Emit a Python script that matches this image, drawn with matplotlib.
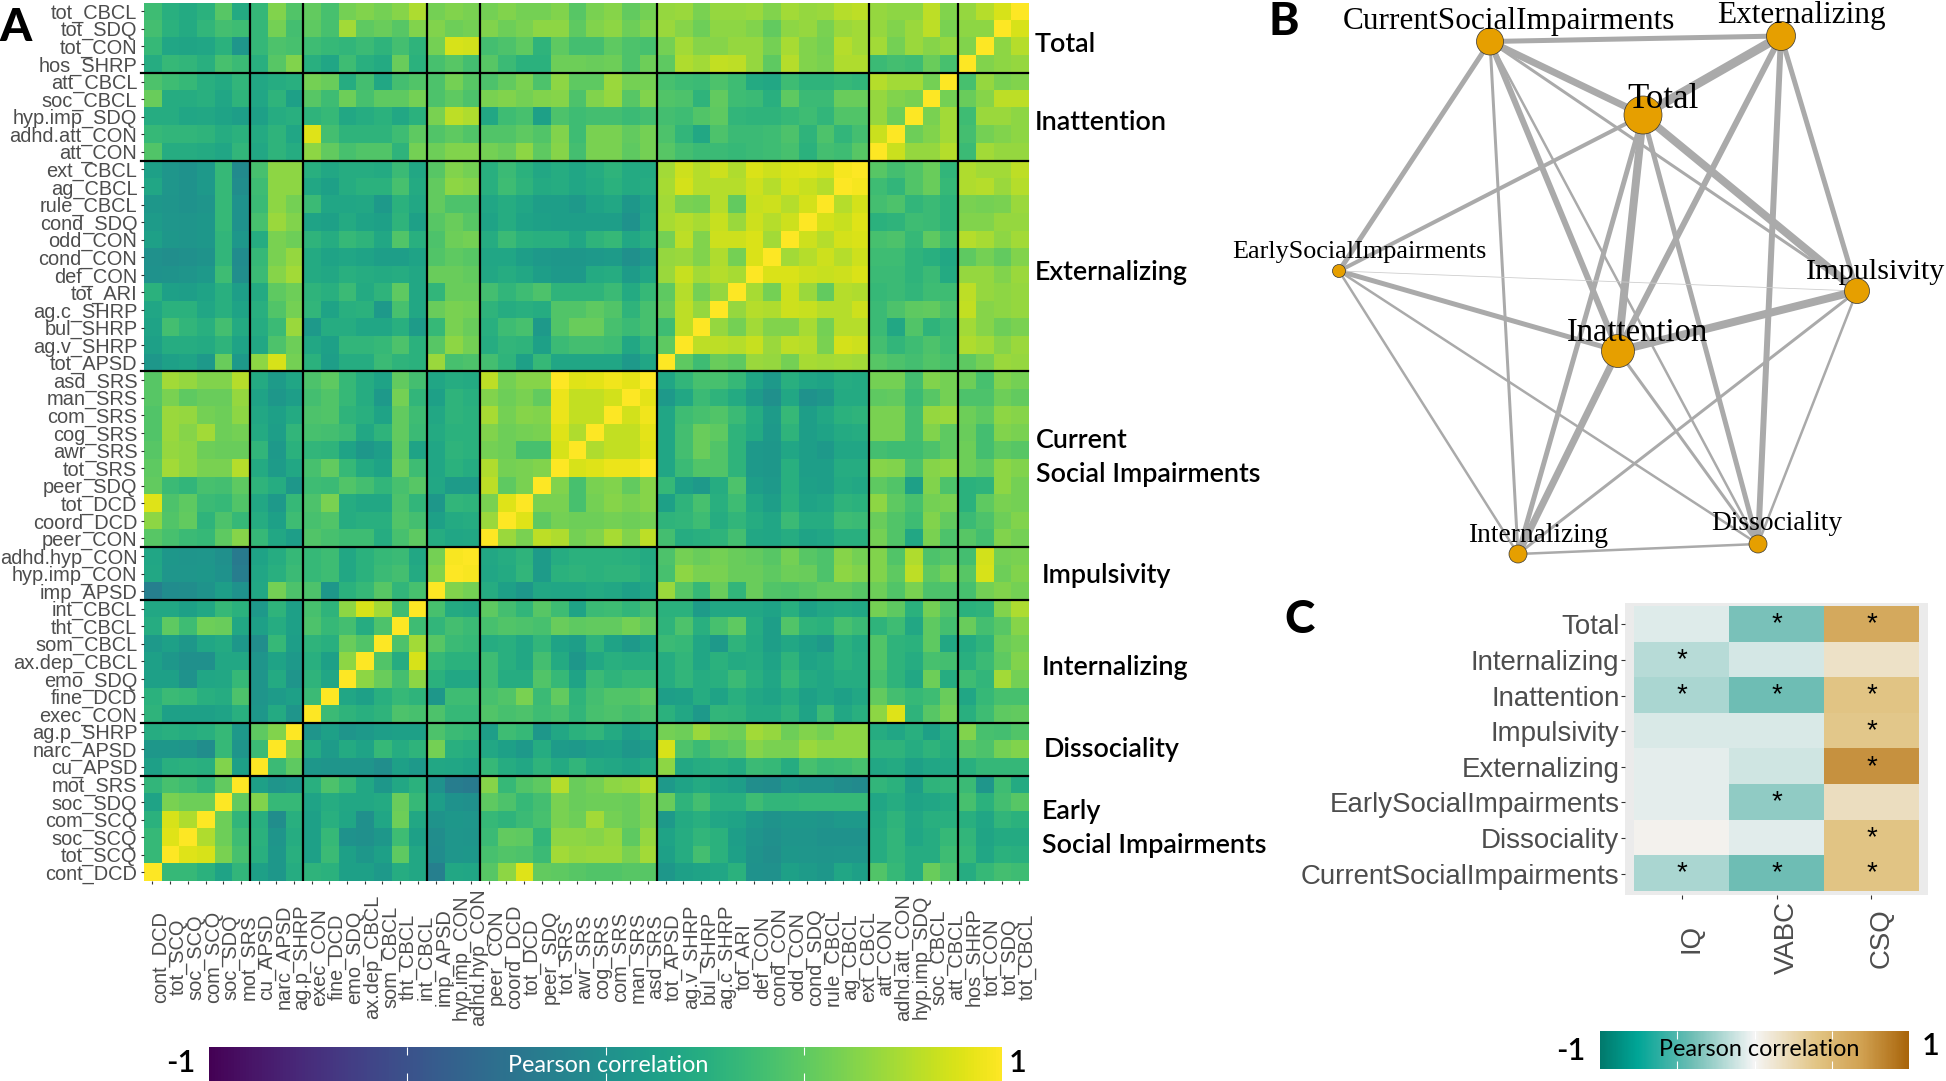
import numpy as np
import matplotlib
matplotlib.use("Agg")
import matplotlib.pyplot as plt
from matplotlib.cm import ScalarMappable
from matplotlib.colors import LinearSegmentedColormap, Normalize

W, H = 1946, 1081

# measures, top to bottom on the y axis of panel A
measures = ["tot_CBCL", "tot_SDQ", "tot_CON", "hos_SHRP",
            "att_CBCL", "soc_CBCL", "hyp.imp_SDQ", "adhd.att_CON", "att_CON",
            "ext_CBCL", "ag_CBCL", "rule_CBCL", "cond_SDQ", "odd_CON", "cond_CON",
            "def_CON", "tot_ARI", "ag.c_SHRP", "bul_SHRP", "ag.v_SHRP", "tot_APSD",
            "asd_SRS", "man_SRS", "com_SRS", "cog_SRS", "awr_SRS", "tot_SRS",
            "peer_SDQ", "tot_DCD", "coord_DCD", "peer_CON",
            "adhd.hyp_CON", "hyp.imp_CON", "imp_APSD",
            "int_CBCL", "tht_CBCL", "som_CBCL", "ax.dep_CBCL", "emo_SDQ", "fine_DCD", "exec_CON",
            "ag.p_SHRP", "narc_APSD", "cu_APSD",
            "mot_SRS", "soc_SDQ", "com_SCQ", "soc_SCQ", "tot_SCQ", "cont_DCD"]
group_sizes = [4, 5, 12, 10, 3, 7, 3, 6]

# correlations x100. Each row runs from the left edge
# of the heatmap up to the diagonal; the rest is the mirror image.
row_tot_CBCL = [38,26,22,28,48,22, 33,62,46, 52,42,58,62,58,64,75, 58,62,60, 58,62,58,58,62,48,60,64,52,58, 68,70,60,68,68,70,62,72,68,70,78,80, 68,66,66,80,62, 68,78,88,100]
row_tot_SDQ = [40,28,22,32,40,38, 33,58,40, 50,42,72,50,54,48,62, 62,56,58, 62,56,60,66,66,50,62,66,56,62, 70,64,56,66,66,62,52,66,68,60,70,72, 68,62,70,80,60, 66,66,100]
row_tot_CON = [34,18,17,18,28,5, 33,44,42, 38,34,32,36,30,40,30, 58,88,86, 40,44,50,30,50,40,40,50,44,42, 58,72,64,64,68,68,58,74,62,58,78,72, 72,58,70,64,68, 62,100]
row_hos_SHRP = [24,34,32,26,42,36, 26,48,62, 26,18,38,26,22,54,28, 42,48,40, 48,36,28,28,56,56,54,56,44,56, 50,76,72,82,80,68,50,78,62,60,76,76, 36,40,38,54,42, 100]
row_att_CBCL = [44,38,34,26,22,32, 20,24,26, 58,54,24,40,20,40,46, 44,58,48, 44,52,60,44,66,50,50,70,58,58, 42,38,36,44,38,22,20,38,30,30,34,32, 78,72,72,58,100]
row_soc_CBCL = [54,24,24,26,18,30, 18,30,14, 48,38,56,42,50,50,58, 44,50,44, 60,62,58,62,64,44,62,68,48,62, 46,44,30,52,38,36,26,50,36,36,54,54, 68,62,60,100]
row_hyp_imp_SDQ = [24,24,18,20,16,12, 14,24,26, 30,34,20,24,28,20,28, 60,80,76, 20,38,42,14,44,38,40,40,36,40, 40,38,46,50,32,30,30,34,38,32,46,46, 68,56,100]
row_adhd_att_CON = [34,32,32,30,24,28, 22,30,18, 90,40,30,30,30,38,50, 46,50,46, 46,46,50,46,62,38,60,60,52,58, 44,32,20,44,36,36,38,44,30,44,32,40, 84,100]
row_att_CON = [46,24,24,22,18,32, 20,30,24, 66,52,42,46,46,30,58, 56,62,62, 58,54,66,50,64,40,60,60,50,58, 48,40,36,36,34,36,38,42,28,40,38,48, 100]
row_ext_CBCL = [14,5,2,8,34,-4, 42,66,66, 26,20,24,24,22,36,20, 48,62,58, 26,36,28,20,24,18,24,30,22,22, 72,85,78,85,76,89,85,89,90,87,97,100]
row_ag_CBCL = [18,5,2,8,34,-2, 38,66,66, 20,14,24,28,28,42,22, 52,66,64, 26,38,30,22,24,18,22,28,22,24, 74,87,78,78,78,85,78,87,83,78,100]
row_rule_CBCL = [6,4,2,4,34,2, 36,66,58, 36,18,18,20,8,28,20, 52,44,44, 18,24,18,12,12,8,16,20,6,16, 72,60,58,78,52,83,85,78,87,100]
row_cond_SDQ = [10,5,4,6,34,2, 42,70,62, 16,14,22,16,14,30,14, 48,54,48, 16,24,16,14,12,12,12,12,2,18, 74,78,74,83,70,85,78,85,100]
row_odd_CON = [14,6,4,6,32,6, 24,60,56, 30,24,34,30,20,46,26, 44,56,58, 24,36,28,26,26,18,30,34,20,26, 58,80,62,85,85,89,72,100]
row_cond_CON = [1,-1,0,3,32,-3, 34,60,68, 22,16,18,16,12,12,16, 46,50,48, 18,18,12,8,6,6,8,10,0,8, 68,70,62,76,58,89,100]
row_def_CON = [2,3,4,8,38,-1, 36,64,72, 22,20,26,24,22,24,20, 54,54,52, 20,24,20,12,8,8,22,24,10,18, 70,83,72,78,74,100]
row_tot_ARI = [28,14,12,16,26,12, 22,50,56, 30,26,36,22,30,50,20, 32,54,54, 40,32,38,44,30,30,30,36,22,34, 50,78,58,68,100]
row_ag_c_SHRP = [18,28,28,18,26,16, 26,46,58, 32,16,26,28,8,42,20, 54,60,58, 30,24,26,24,46,46,50,46,30,42, 54,80,68,100]
row_bul_SHRP = [16,40,32,26,40,22, 24,36,70, 8,24,24,18,18,26,10, 34,60,54, 26,38,42,8,46,54,54,42,36,42, 38,80,100]
row_ag_v_SHRP = [14,24,24,22,30,16, 20,44,56, 20,14,32,32,34,44,28, 48,66,58, 24,32,30,14,36,40,40,38,20,32, 50,100]
row_tot_APSD = [6,14,16,8,54,8, 66,88,58, 28,12,24,24,36,30,28, 70,42,44, 40,30,14,34,18,18,18,18,8,18, 100]
row_asd_SRS = [48,72,68,62,62,78, 22,10,18, 44,50,34,24,16,52,40, 18,24,22, 80,58,64,64,100,90,92,96,92,100]
row_man_SRS = [48,60,50,54,54,68, 16,6,12, 40,46,34,24,8,58,32, 14,30,26, 62,56,60,52,94,82,82,86,100]
row_com_SRS = [46,70,68,58,56,66, 20,14,22, 44,46,30,26,16,52,38, 20,30,28, 74,58,64,62,94,82,82,100]
row_cog_SRS = [46,70,64,72,56,58, 22,12,32, 42,40,36,20,30,52,36, 22,28,28, 62,56,58,60,90,76,100]
row_awr_SRS = [48,68,66,56,54,54, 32,8,28, 32,30,16,6,12,50,16, 18,30,28, 58,56,42,42,88,100]
row_tot_SRS = [50,72,66,60,60,78, 22,10,20, 42,52,34,22,16,54,38, 18,28,24, 76,58,60,62,100]
row_peer_SDQ = [52,36,32,42,40,50, 30,24,6, 38,36,46,40,32,42,48, 20,10,10, 80,50,60,100]
row_tot_DCD = [90,44,50,36,34,46, 20,8,34, 44,60,24,20,20,44,32, 6,32,30, 60,90,100]
row_coord_DCD = [66,46,52,30,44,34, 24,14,38, 42,46,24,26,26,46,40, 14,22,24, 70,100]
row_peer_CON = [48,42,36,34,50,64, 34,20,12, 46,42,38,38,24,42,50, 24,18,20, 100]
row_adhd_hyp_CON = [18,6,4,5,0,-18, 16,24,34, 34,38,20,28,34,36,20, 58,98,100]
row_hyp_imp_CON = [20,5,5,6,2,-15, 18,26,36, 34,38,20,28,36,40,22, 62,100]
row_imp_APSD = [-14,-3,-2,3,12,2, 20,58,44, 44,6,28,34,48,32,42, 100]
row_int_CBCL = [20,20,14,20,34,28, 8,30,14, 42,30,66,88,72,38,100]
row_tht_CBCL = [24,50,38,56,54,20, 14,24,14, 44,34,40,24,44,100]
row_som_CBCL = [8,14,6,18,22,6, -1,34,12, 30,26,54,46,100]
row_ax_dep_CBCL = [14,6,0,0,20,20, 4,16,8, 26,14,66,100]
row_emo_SDQ = [14,14,2,18,20,34, 4,22,4, 30,18,100]
row_fine_DCD = [28,36,34,26,24,44, 4,10,14, 36,100]
row_exec_CON = [30,14,14,14,16,26, 6,22,4, 100]
row_ag_p_SHRP = [24,26,24,26,34,8, 50,62,100]
row_narc_APSD = [6,6,4,-2,34,4, 36,100]
row_cu_APSD = [14,26,28,26,62,14, 100]
row_mot_SRS = [32,42,38,32,52,100]
row_soc_SDQ = [16,60,56,56,100]
row_com_SCQ = [28,88,76,100]
row_soc_SCQ = [34,90,100]
row_tot_SCQ = [34,100]
row_cont_DCD = [100]

corr_rows = [row_tot_CBCL, row_tot_SDQ, row_tot_CON, row_hos_SHRP, row_att_CBCL, row_soc_CBCL,
             row_hyp_imp_SDQ, row_adhd_att_CON, row_att_CON, row_ext_CBCL, row_ag_CBCL, row_rule_CBCL,
             row_cond_SDQ, row_odd_CON, row_cond_CON, row_def_CON, row_tot_ARI, row_ag_c_SHRP,
             row_bul_SHRP, row_ag_v_SHRP, row_tot_APSD, row_asd_SRS, row_man_SRS, row_com_SRS,
             row_cog_SRS, row_awr_SRS, row_tot_SRS, row_peer_SDQ, row_tot_DCD, row_coord_DCD,
             row_peer_CON, row_adhd_hyp_CON, row_hyp_imp_CON, row_imp_APSD, row_int_CBCL, row_tht_CBCL,
             row_som_CBCL, row_ax_dep_CBCL, row_emo_SDQ, row_fine_DCD, row_exec_CON, row_ag_p_SHRP,
             row_narc_APSD, row_cu_APSD, row_mot_SRS, row_soc_SDQ, row_com_SCQ, row_soc_SCQ,
             row_tot_SCQ, row_cont_DCD]

# panel B network
factors = ["CurrentSocialImpairments", "Externalizing", "Total", "EarlySocialImpairments",
           "Impulsivity", "Inattention", "Internalizing", "Dissociality"]
node_x = [1490, 1781, 1643, 1339, 1857, 1618, 1518, 1758]
node_y = [41.5, 36, 115, 271, 291, 351, 554, 544]
node_d = [27, 29, 38, 13, 25, 33, 18, 18]
label_x = [1509, 1801, 1663, 1359, 1876, 1638, 1538, 1777]
label_y = [22, 16, 99, 252, 272, 333, 535, 523]
label_pt = [22.5, 22.5, 25, 18.8, 21.7, 23.5, 19.7, 19.8]
edge_a = [0, 0, 0, 0, 0, 0, 0, 1, 1, 1, 1, 2, 2, 2, 2, 2, 3, 3, 3, 3, 4, 4, 4, 5, 5, 6]
edge_b = [1, 2, 3, 5, 6, 7, 4, 2, 5, 7, 4, 3, 5, 4, 6, 7, 5, 4, 6, 7, 5, 6, 7, 6, 7, 7]
edge_w = [5, 7, 5, 6, 3, 2.5, 3, 9, 6, 6, 5, 4, 8, 8, 5, 5, 5, 0.8, 2.5, 2.5, 8, 3, 2.5, 7, 3, 2.5]

# panel C
c_rows = ["Total", "Internalizing", "Inattention", "Impulsivity", "Externalizing",
          "EarlySocialImpairments", "Dissociality", "CurrentSocialImpairments"]
c_cols = ["IQ", "VABC", "CSQ"]
c_iq = [-0.07, -0.18, -0.22, -0.08, -0.05, -0.05, 0.03, -0.22]
c_vabc = [-0.37, -0.10, -0.40, -0.08, -0.11, -0.30, -0.06, -0.40]
c_csq = [0.62, 0.16, 0.40, 0.38, 0.77, 0.19, 0.40, 0.40]
c_sig = [[0, 1, 1], [1, 0, 0], [1, 1, 1], [0, 0, 1], [0, 0, 1], [0, 1, 0], [0, 0, 1], [1, 1, 1]]

SANS = "Liberation Sans"
SERIF = "Liberation Serif"
GREY = "#4d4d4d"


def px_rect(x0, y0, x1, y1):
    return [x0 / W, 1 - y1 / H, (x1 - x0) / W, (y1 - y0) / H]


def put(x, y, s, **kw):
    fig.text(x / W, 1 - y / H, s, **kw)


fig = plt.figure(figsize=(W / 100, H / 100), dpi=100)

# A: heatmap
n = len(measures)
corr = np.zeros((n, n))
for i, row in enumerate(corr_rows):
    corr[i, :n - i] = np.array(row) / 100
    for j in range(n - i):
        corr[n - 1 - j, n - 1 - i] = row[j] / 100

ax = fig.add_axes(px_rect(143.6, 2.5, 1028.3, 881))
ax.imshow(corr, cmap="viridis", vmin=-1, vmax=1, aspect="auto", interpolation="nearest")
ax.set_yticks(range(n))
ax.set_yticklabels(measures, family=SANS, fontsize=14.4, color=GREY)
ax.set_xticks(range(n))
ax.set_xticklabels([])
ax.tick_params(length=2.5, width=0.8, color="#333333", pad=2)
for j in range(n):
    ax.annotate(measures[n - 1 - j], xy=(j, 0), xycoords=("data", "axes fraction"),
                xytext=(8, -76), textcoords="offset pixels", rotation=90,
                ha="center", va="center", family=SANS, fontsize=14.4, color=GREY)
for s in ax.spines.values():
    s.set_visible(False)

pos = np.cumsum(group_sizes)[:-1]
for p in pos:
    ax.plot([-0.65, n - 0.5], [p - 0.5, p - 0.5], color="black", lw=1.6, clip_on=False)
    ax.axvline(n - p - 0.5, color="black", lw=1.6)
ax.set_xlim(-0.5, n - 0.5)
ax.set_ylim(n - 0.5, -0.5)

group_labels = [("Total", 1035, 45), ("Inattention", 1035, 123), ("Externalizing", 1035, 272),
                ("Current", 1036, 440), ("Social Impairments", 1036, 475), ("Impulsivity", 1042, 576),
                ("Internalizing", 1042, 667), ("Dissociality", 1044, 750), ("Early", 1042, 811),
                ("Social Impairments", 1042, 846)]
for s, x, y in group_labels:
    put(x, y, s, family="Lato", fontsize=19.4, fontweight="semibold", ha="left", va="center")

put(16, 28, "A", family="Lato", fontsize=33, fontweight="black", ha="center", va="center")
put(1284, 22, "B", family="Lato", fontsize=33, fontweight="black", ha="center", va="center")
put(1299, 620, "C", family="Lato", fontsize=33, fontweight="black", ha="center", va="center")

# A: colourbar
cax = fig.add_axes(px_rect(209, 1047, 1002, 1081))
cb = fig.colorbar(ScalarMappable(Normalize(-1, 1), "viridis"), cax=cax, orientation="horizontal")
cb.outline.set_visible(False)
cb.set_ticks([-0.5, 0, 0.5], labels=[])
cax.tick_params(direction="in", top=True, bottom=True, color="white", length=6, width=0.8)
put(608, 1065, "Pearson correlation", family="Lato", fontsize=16.8, color="white", ha="center", va="center")
put(181, 1063, "-1", family="Lato", fontsize=22, fontweight="semibold", ha="center", va="center")
put(1018, 1063, "1", family="Lato", fontsize=22, fontweight="semibold", ha="center", va="center")

# B: network
bx = fig.add_axes(px_rect(1230, 0, 1946, 600))
bx.set_xlim(1230, 1946)
bx.set_ylim(600, 0)
bx.axis("off")
for a, b, w in zip(edge_a, edge_b, edge_w):
    col = "#cccccc" if w < 1 else "#aaaaaa"
    bx.plot([node_x[a], node_x[b]], [node_y[a], node_y[b]], color=col, lw=w * 0.72,
            solid_capstyle="round", zorder=1)
bx.scatter(node_x, node_y, s=[(d * 0.72) ** 2 for d in node_d], color="#E69F00",
           edgecolor="#333333", linewidth=0.5, zorder=2)
for name, x, y, fs in zip(factors, label_x, label_y, label_pt):
    bx.text(x, y, name, family=SERIF, fontsize=fs, ha="center", va="center", zorder=3, clip_on=False)

# C: heatmap
brbg = LinearSegmentedColormap.from_list(
    "brbg_bar", [(0, "#01796c"), (0.12, "#00a596"), (0.3, "#70beb5"), (0.5, "#f5f5f5"),
                 (0.7, "#e2c585"), (0.85, "#d0a050"), (1, "#a8640a")])
c_vals = np.array([c_iq, c_vabc, c_csq]).T
cx = fig.add_axes(px_rect(1625, 603, 1928, 895))
cx.set_facecolor("#ebebeb")
cx.imshow(c_vals, cmap=brbg, vmin=-1, vmax=1, aspect="auto", interpolation="nearest")
cx.set_xlim(-0.595, 2.595)
cx.set_ylim(7.6, -0.6)
cx.set_yticks(range(len(c_rows)))
cx.set_yticklabels(c_rows, family=SANS, fontsize=19.9, color=GREY)
cx.set_xticks(range(3))
cx.set_xticklabels([])
cx.tick_params(length=3, width=0.8, color="#333333", pad=1)
for s in cx.spines.values():
    s.set_visible(False)
for j, name in enumerate(c_cols):
    cx.annotate(name, xy=(j, 0), xycoords=("data", "axes fraction"), xytext=(10, -43),
                textcoords="offset pixels", rotation=90, ha="center", va="center",
                family=SANS, fontsize=19.9, color=GREY)
for i, row in enumerate(c_sig):
    for j, flag in enumerate(row):
        if flag:
            cx.text(j, i, "*", family=SANS, fontsize=20, ha="center", va="center", color="black")

# C: colourbar
dax = fig.add_axes(px_rect(1600, 1031, 1909, 1069))
cb2 = fig.colorbar(ScalarMappable(Normalize(-1, 1), brbg), cax=dax, orientation="horizontal")
cb2.outline.set_visible(False)
cb2.set_ticks([-0.5, 0, 0.5], labels=[])
dax.tick_params(direction="in", top=True, bottom=True, color="white", length=6, width=0.8)
put(1759, 1049, "Pearson correlation", family="Lato", fontsize=16.8, color="black", ha="center", va="center")
put(1571, 1051, "-1", family="Lato", fontsize=22, fontweight="semibold", ha="center", va="center")
put(1931, 1046, "1", family="Lato", fontsize=22, fontweight="semibold", ha="center", va="center")

fig.savefig("out.png", dpi=100)
